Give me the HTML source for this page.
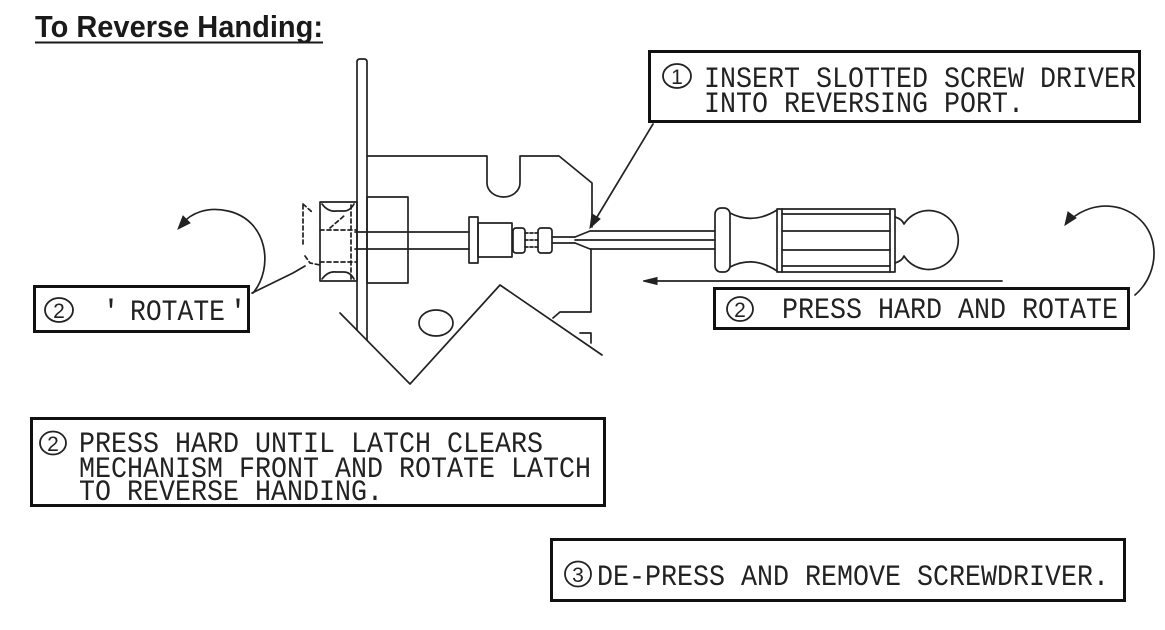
<!DOCTYPE html>
<html>
<head>
<meta charset="utf-8">
<style>
html,body{margin:0;padding:0;background:#fff;}
svg{display:block;}
.t{font-family:"Liberation Mono",monospace;font-size:30px;fill:#222;}
.d{font-family:"Liberation Sans",sans-serif;font-size:21px;fill:#222;}
</style>
</head>
<body>
<svg width="1165" height="630" viewBox="0 0 1165 630" xmlns="http://www.w3.org/2000/svg">
<rect width="1165" height="630" fill="#fff"/>

<!-- Title -->
<text x="35" y="37" font-family="Liberation Sans, sans-serif" font-weight="bold" font-size="31" fill="#1a1a1a" textLength="288" lengthAdjust="spacingAndGlyphs">To Reverse Handing:</text>
<line x1="35" y1="42.5" x2="323" y2="42.5" stroke="#1a1a1a" stroke-width="2"/>

<g fill="none" stroke="#222" stroke-width="1.7" stroke-linejoin="round" stroke-linecap="round">
  <!-- plate -->
  <path d="M357,330 L357,62 Q357,59 360,59 L364,59 Q367,59 367,62 L367,340"/>
  <!-- mechanism outline -->
  <path d="M367,156 L487,156 L487,183 A16.5,14 0 0 0 520,183 L520,156 L559,156 L592,183 L592,227"/>
  <path d="M591,249 L591,312 L560,312 L553,318"/>
  <path d="M580,333 L591,333 L591,343"/>
  <!-- V -->
  <path d="M340,313 L410,384 L500,285 L602,355"/>
  <!-- oval -->
  <ellipse cx="436" cy="323" rx="17" ry="13"/>
  <!-- knob -->
  <rect x="367" y="197" width="41" height="86"/>
  <!-- rod -->
  <line x1="355" y1="232" x2="469" y2="232"/>
  <line x1="355" y1="249" x2="469" y2="249"/>
  <!-- collar -->
  <rect x="469" y="217" width="9" height="46"/>
  <rect x="478" y="223" width="34" height="34"/>
  <!-- threaded -->
  <rect x="513" y="228" width="12" height="25" rx="3"/>
  <rect x="538" y="228" width="14" height="25" rx="3"/>
  <path d="M525,233 L538,233 M525,240 L538,240 M525,247 L538,247" stroke-dasharray="3,2"/>
  <!-- latch -->
  <rect x="320" y="202" width="37" height="79"/>
  <path d="M322,204 Q328,212 336,211 L344,211 Q350,211 354,204"/>
  <path d="M322,279 Q328,271 336,272 L344,272 Q350,272 354,279"/>
  <path d="M320,230 L356,230 M320,262 L356,262 M351,205 L351,280 M330,228 L345,215" stroke-dasharray="4,3"/>
  <path d="M303,205 L303,246 M303,204 L312,212 M305,256 L310,263 L320,265" stroke-dasharray="4,3"/>
  <!-- leader from rotate box -->
  <path d="M252,293 L293,273 L305,266"/>
  <!-- screwdriver -->
  <path d="M552,237 L575,237 M552,243 L575,243"/>
  <path d="M575,237 L590,231 L715,231 M575,243 L590,249 L715,249 M575,240 L715,240"/>
  <rect x="715" y="208" width="15" height="64" rx="6"/>
  <path d="M730,213 Q753,225 777,210 M730,267 Q753,255 777,271"/>
  <rect x="777" y="209" width="118" height="63"/>
  <path d="M782,209 L782,272 M890,209 L890,272"/>
  <path d="M782,214 L890,214 M782,231 L890,231 M782,250 L890,250 M782,266 L890,266"/>
  <path d="M895,217 Q902,219 904,224 A29.5,29.5 0 1 1 904,256 Q902,261 895,263"/>
  <!-- leader arrow box1 -->
  <line x1="653" y1="124" x2="594" y2="222"/>
  <!-- press arrow -->
  <line x1="652" y1="281" x2="1002" y2="281"/>
  <!-- curved arrows -->
  <path d="M253,293 C274,268 268,220 228,211 C206,206 190,214 182,224"/>
  <path d="M1135,295 C1162,272 1163,222 1120,208 C1098,202 1080,211 1070,220"/>
</g>

<!-- arrowheads -->
<g fill="#222" stroke="#222" stroke-width="1">
  <polygon points="590,228 592,214 600,219"/>
  <polygon points="643,281 657,277.5 657,284.5"/>
  <polygon points="178,229 183,216 190,223"/>
  <polygon points="1065,225 1068,212 1076,218"/>
</g>

<!-- boxes -->
<g fill="none" stroke="#111" stroke-width="3">
  <rect x="649.5" y="51.5" width="490" height="70"/>
  <rect x="714.5" y="288.5" width="414" height="40"/>
  <rect x="34.5" y="286.5" width="214" height="45"/>
  <rect x="31.5" y="418.5" width="573" height="87"/>
  <rect x="551.5" y="539.5" width="573" height="61"/>
</g>

<!-- circled numbers -->
<g fill="none" stroke="#222" stroke-width="1.8">
  <ellipse cx="677" cy="76" rx="14" ry="12"/>
  <ellipse cx="740" cy="309" rx="13" ry="12"/>
  <ellipse cx="59" cy="310" rx="14" ry="12"/>
  <ellipse cx="53" cy="443" rx="13" ry="11.5"/>
  <ellipse cx="578" cy="574" rx="13" ry="12.5"/>
</g>
<g class="d" text-anchor="middle">
  <text x="677" y="84">1</text>
  <text x="740" y="317">2</text>
  <text x="59" y="318">2</text>
  <text x="53" y="451">2</text>
  <text x="578" y="582">3</text>
</g>

<!-- labels -->
<text class="t" x="704" y="87" textLength="432" lengthAdjust="spacingAndGlyphs">INSERT SLOTTED SCREW DRIVER</text>
<text class="t" x="704" y="112" textLength="320" lengthAdjust="spacingAndGlyphs">INTO REVERSING PORT.</text>

<text class="t" x="782" y="318" textLength="336" lengthAdjust="spacingAndGlyphs">PRESS HARD AND ROTATE</text>

<text class="t" x="102" y="320">'</text>
<text class="t" x="130" y="320" textLength="95" lengthAdjust="spacingAndGlyphs">ROTATE</text>
<text class="t" x="229" y="320">'</text>

<text class="t" x="79" y="452" textLength="464" lengthAdjust="spacingAndGlyphs">PRESS HARD UNTIL LATCH CLEARS</text>
<text class="t" x="79" y="477" textLength="512" lengthAdjust="spacingAndGlyphs">MECHANISM FRONT AND ROTATE LATCH</text>
<text class="t" x="79" y="500" textLength="304" lengthAdjust="spacingAndGlyphs">TO REVERSE HANDING.</text>

<text class="t" x="597" y="585" font-size="32" textLength="512" lengthAdjust="spacingAndGlyphs">DE-PRESS AND REMOVE SCREWDRIVER.</text>
</svg>
</body>
</html>
